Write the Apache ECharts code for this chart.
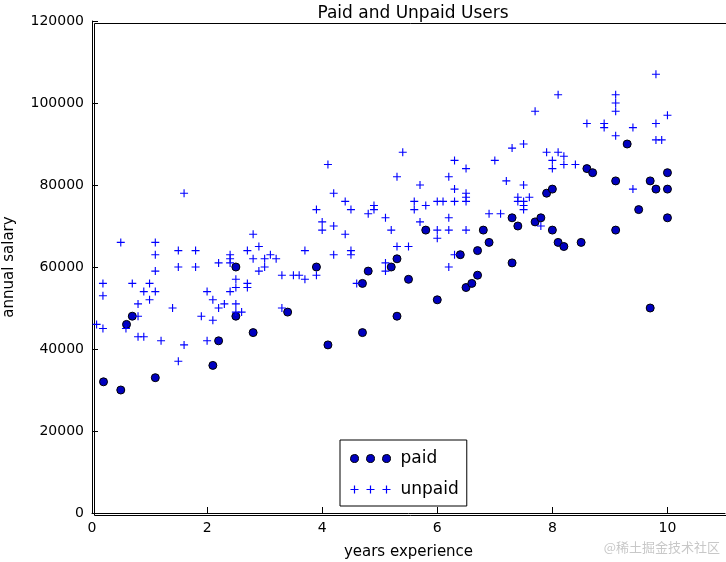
<!DOCTYPE html>
<html>
<head>
    <meta charset="utf-8" />
    <script src="https://cdn.jsdelivr.net/npm/echarts@6/dist/echarts.min.js"></script>
    <style>
        body { margin: 0; }
        #main { width: 726px; height: 562px; }
    </style>
</head>
<body>
    <div id="main"></div>
    <script type="text/javascript">
        // 付费用户 [工作年限, 年薪]
        var paidData = [
            [0.2, 32000], [0.5, 30000], [0.6, 46000], [0.7, 48000], [1.1, 33000], [2.1, 36000],
            [2.2, 42000], [2.5, 48000], [2.5, 60000], [2.8, 44000], [3.4, 49000], [3.9, 60000],
            [4.1, 41000], [4.7, 44000], [4.7, 56000], [4.8, 59000], [5.2, 60000], [5.3, 48000],
            [5.3, 62000], [5.5, 57000], [5.8, 69000], [6.0, 52000], [6.4, 63000], [6.5, 55000],
            [6.6, 56000], [6.7, 58000], [6.7, 64000], [6.8, 69000], [6.9, 66000], [7.3, 61000],
            [7.3, 72000], [7.4, 70000], [7.7, 71000], [7.8, 72000], [7.9, 78000], [8.0, 79000],
            [8.0, 69000], [8.1, 66000], [8.2, 65000], [8.5, 66000], [8.6, 84000], [8.7, 83000],
            [9.1, 81000], [9.1, 69000], [9.3, 90000], [9.5, 74000], [9.7, 81000], [9.7, 50000],
            [9.8, 79000], [10, 83000], [10, 79000], [10, 72000]
        ];
        // 免费用户
        var unpaidData = [
            [0.08, 46000], [0.19, 56000], [0.19, 53000], [0.19, 45000], [0.5, 66000], [0.59, 45000],
            [0.7, 56000], [0.8, 51000], [0.8, 48000], [0.8, 43000], [0.9, 43000], [0.9, 54000],
            [1.0, 56000], [1.0, 52000], [1.1, 66000], [1.1, 63000], [1.1, 59000], [1.1, 54000],
            [1.2, 42000], [1.4, 50000], [1.5, 64000], [1.5, 60000], [1.5, 37000], [1.6, 78000],
            [1.6, 41000], [1.8, 64000], [1.8, 60000], [1.9, 48000], [2.0, 54000], [2.0, 42000],
            [2.1, 52000], [2.1, 47000], [2.2, 61000], [2.2, 50000], [2.3, 51000], [2.4, 63000],
            [2.4, 62000], [2.4, 61000], [2.4, 54000], [2.5, 57000], [2.5, 55000], [2.5, 51000],
            [2.5, 49000], [2.6, 49000], [2.7, 64000], [2.7, 56000], [2.7, 55000], [2.8, 68000],
            [2.8, 62000], [2.9, 65000], [2.9, 59000], [3.0, 62000], [3.0, 60000], [3.1, 63000],
            [3.2, 62000], [3.3, 58000], [3.3, 50000], [3.5, 58000], [3.6, 58000], [3.7, 64000],
            [3.7, 57000], [3.9, 74000], [3.9, 58000], [4.0, 71000], [4.0, 69000], [4.1, 85000],
            [4.2, 78000], [4.2, 70000], [4.2, 63000], [4.4, 76000], [4.4, 68000], [4.5, 74000],
            [4.5, 64000], [4.5, 63000], [4.6, 56000], [4.8, 73000], [4.9, 75000], [4.9, 74000],
            [5.1, 72000], [5.1, 61000], [5.1, 59000], [5.2, 69000], [5.3, 82000], [5.3, 65000],
            [5.4, 88000], [5.5, 65000], [5.6, 76000], [5.6, 74000], [5.7, 80000], [5.7, 71000],
            [5.8, 75000], [6.0, 76000], [6.1, 76000], [6.0, 69000], [6.0, 67000], [6.2, 82000],
            [6.2, 72000], [6.2, 69000], [6.2, 60000], [6.3, 86000], [6.3, 79000], [6.3, 76000],
            [6.3, 63000], [6.5, 84000], [6.5, 78000], [6.5, 77000], [6.5, 76000], [6.5, 69000],
            [6.9, 73000], [7.0, 86000], [7.1, 73000], [7.2, 81000], [7.3, 89000], [7.4, 77000],
            [7.4, 76000], [7.5, 90000], [7.5, 80000], [7.5, 76000], [7.5, 75000], [7.5, 74000],
            [7.6, 77000], [7.7, 98000], [7.8, 70000], [7.9, 88000], [8.0, 86000], [8.0, 84000],
            [8.1, 102000], [8.1, 88000], [8.2, 87000], [8.2, 85000], [8.4, 85000], [8.6, 95000],
            [8.9, 95000], [8.9, 94000], [9.1, 102000], [9.1, 100000], [9.1, 98000], [9.1, 92000],
            [9.4, 94000], [9.4, 79000], [9.8, 107000], [9.8, 95000], [9.8, 91000], [9.9, 91000],
            [10, 97000]
        ];

        var plusPath = "path://M4.3,0H5.7V10H4.3ZM0,4.3H10V5.7H0Z";
        // 图例用三个标记
        var paidIcon = "path://M4,0A4,4 0 1 1 3.99,0ZM20,0A4,4 0 1 1 19.99,0ZM36,0A4,4 0 1 1 35.99,0Z";
        var unpaidIcon = "path://M3.4,0H4.6V8H3.4ZM0,3.4H8V4.6H0ZM19.4,0H20.6V8H19.4ZM16,3.4H24V4.6H16ZM35.4,0H36.6V8H35.4ZM32,3.4H40V4.6H32Z";
        var font = "DejaVu Sans";

        var myChart = echarts.init(document.getElementById("main"));
        var option = {
            animation: false,
            textStyle: { fontFamily: font },
            title: {
                text: "Paid and Unpaid Users",
                left: 408,
                textAlign: "center",
                top: 0,
                textStyle: { fontFamily: font, fontSize: 17, fontWeight: "normal", color: "#000" }
            },
            grid: { left: 92, right: 1, top: 21, bottom: 49, containLabel: false, outerBoundsMode: "none" },
            xAxis: {
                type: "value", min: 0, max: 11, interval: 2,
                name: "years experience", nameLocation: "middle", nameGap: 32,
                nameTextStyle: { fontFamily: font, fontSize: 15, color: "#000" },
                axisLine: { lineStyle: { color: "#000", width: 1 } },
                axisTick: { inside: true, length: 6, lineStyle: { color: "#000" } },
                axisLabel: { color: "#000", fontSize: 14, fontFamily: font, showMaxLabel: false, margin: 8 },
                splitLine: { show: false }
            },
            yAxis: {
                type: "value", min: 0, max: 120000, interval: 20000,
                name: "annual salary", nameLocation: "middle", nameGap: 75,
                nameTextStyle: { fontFamily: font, fontSize: 15, color: "#000" },
                axisLine: { show: true, lineStyle: { color: "#000", width: 1 } },
                axisTick: { show: true, inside: true, length: 6, lineStyle: { color: "#000" } },
                axisLabel: { color: "#000", fontSize: 14, fontFamily: font, formatter: function (v) { return String(v); } },
                splitLine: { show: false }
            },
            legend: {
                orient: "vertical",
                left: 340, top: 440,
                itemWidth: 40, itemHeight: 8, itemGap: 14,
                padding: [10, 8, 8, 10],
                borderColor: "#000", borderWidth: 1,
                textStyle: { fontFamily: font, fontSize: 17, color: "#000", padding: [0, 0, 0, 5] },
                data: [
                    { name: "paid", icon: paidIcon, itemStyle: { color: "#0000bf", borderColor: "#000", borderWidth: 1 } },
                    { name: "unpaid", icon: unpaidIcon, itemStyle: { color: "#0000ff", borderWidth: 0 } }
                ]
            },
            series: [
                {
                    name: "paid", type: "scatter", data: paidData,
                    symbol: "circle", symbolSize: 8,
                    itemStyle: { color: "#0000bf", borderColor: "#000", borderWidth: 1, opacity: 1 }
                },
                {
                    name: "unpaid", type: "scatter", data: unpaidData,
                    symbol: plusPath, symbolSize: 8,
                    itemStyle: { color: "#0000ff", opacity: 1 }
                }
            ],
            graphic: [
                { type: "rect", left: 92, top: 21, shape: { width: 633, height: 492 },
                  style: { fill: "none", stroke: "#000", lineWidth: 1 }, silent: true },
                { type: "text", right: 6, bottom: 8,
                  style: { text: "@稀土掘金技术社区", fill: "#c8c8c8", fontSize: 13, fontFamily: "Noto Sans CJK SC" } }
            ]
        };
        myChart.setOption(option);
    </script>
</body>
</html>
